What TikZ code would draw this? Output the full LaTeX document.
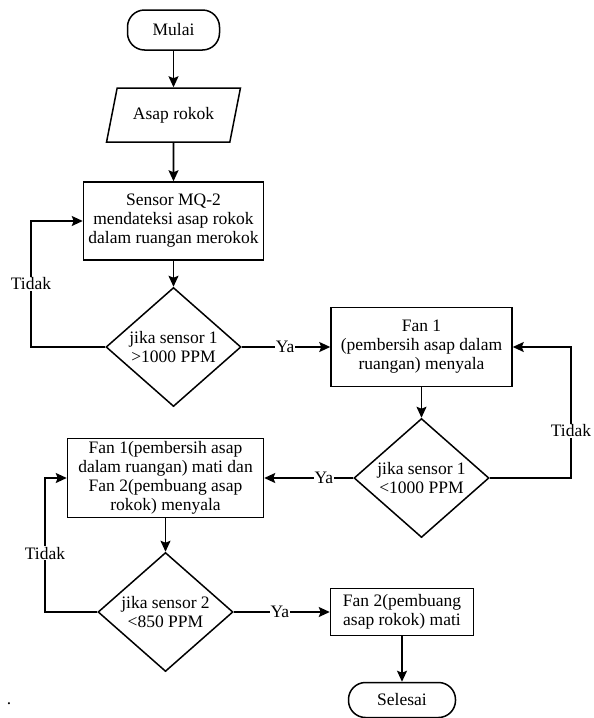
\documentclass[tikz,border=0pt]{standalone}
\usepackage{fontspec}
\setmainfont{Liberation Serif}
\usepackage{tikz}
\usetikzlibrary{shapes.geometric,arrows.meta}
\tikzstyle{terminal}=[fill=white, draw=black, line width=1.5pt, shape=rectangle, rounded corners=17pt, inner sep=2pt]
\tikzstyle{input}=[fill=white, draw=black, line width=1.5pt, shape=trapezium, trapezium left angle=68, trapezium right angle=112, trapezium stretches=true, inner sep=2pt]
\tikzstyle{process}=[fill=white, draw=black, line width=1.5pt, shape=rectangle, align=center, inner sep=1pt]
\tikzstyle{decision}=[fill=white, draw=black, line width=1.5pt, shape=diamond, aspect=1.14, align=center, inner sep=0pt, minimum width=135pt, minimum height=119pt]
\tikzstyle{flow}=[-{Stealth[length=11pt, width=10pt, inset=2pt]}, draw=black, line width=1.6pt]
\tikzstyle{answer}=[fill=white, inner sep=1pt]
\pgfdeclarelayer{nodelayer}
\pgfdeclarelayer{edgelayer}
\pgfsetlayers{nodelayer,edgelayer,main}

\begin{document}
\begin{tikzpicture}[x=1pt, y=-1pt, font=\fontsize{17.5}{19}\selectfont]
	\useasboundingbox (0,0) rectangle (594,718);
	\begin{pgfonlayer}{nodelayer}
		\node [style=terminal, minimum width=92pt, minimum height=40pt] (0) at (173.5, 30) {Mulai};
		\node [style=input, minimum width=134pt, minimum height=54pt] (1) at (173.5, 115) {Asap rokok};
		\node [style=process, minimum width=180pt, minimum height=78pt] (2) at (173.5, 221) {Sensor MQ-2\\mendateksi asap rokok\\dalam ruangan merokok};
		\node [style=decision] (3) at (173.5, 347) {jika sensor 1\\>1000 PPM};
		\node [style=process, minimum width=181pt, minimum height=79pt] (4) at (421.5, 347) {Fan 1\\(pembersih asap dalam\\ruangan) menyala};
		\node [style=decision] (5) at (421.5, 478) {jika sensor 1\\<1000 PPM};
		\node [style=process, minimum width=196pt, minimum height=79pt] (6) at (165.5, 478) {Fan 1(pembersih asap\\dalam ruangan) mati dan\\Fan 2(pembuang asap\\rokok) menyala};
		\node [style=decision] (7) at (165.5, 612) {jika sensor 2\\<850 PPM};
		\node [style=process, minimum width=143pt, minimum height=47pt] (8) at (402, 612) {Fan 2(pembuang\\asap rokok) mati};
		\node [style=terminal, minimum width=107pt, minimum height=35pt] (9) at (402, 700) {Selesai};
		\node (10) at (9, 704) {.};
		\coordinate (11) at (31, 347);
		\coordinate (12) at (571, 478);
		\coordinate (13) at (45, 612);
	\end{pgfonlayer}
	\begin{pgfonlayer}{edgelayer}
		\draw [style=flow] (0) to (1);
		\draw [style=flow] (1) to (2);
		\draw [style=flow] (2) to (3);
		\draw [style=flow] (3) to node [style=answer, pos=0.49] {Ya} (4);
		\draw [style=flow] (4) to (5);
		\draw [style=flow] (5) to node [style=answer, pos=0.33] {Ya} (6);
		\draw [style=flow] (6) to (7);
		\draw [style=flow] (7) to node [style=answer, pos=0.48] {Ya} (8);
		\draw [style=flow] (8) to (9);
		\draw [style=flow] (3.west) -- (11) |- node [style=answer, pos=0.25] {Tidak} (2.west);
		\draw [style=flow] (5.east) -- (12) |- node [style=answer, pos=0.18] {Tidak} (4.east);
		\draw [style=flow] (7.west) -- (13) |- node [style=answer, pos=0.22] {Tidak} (6.west);
	\end{pgfonlayer}
\end{tikzpicture}
\end{document}
